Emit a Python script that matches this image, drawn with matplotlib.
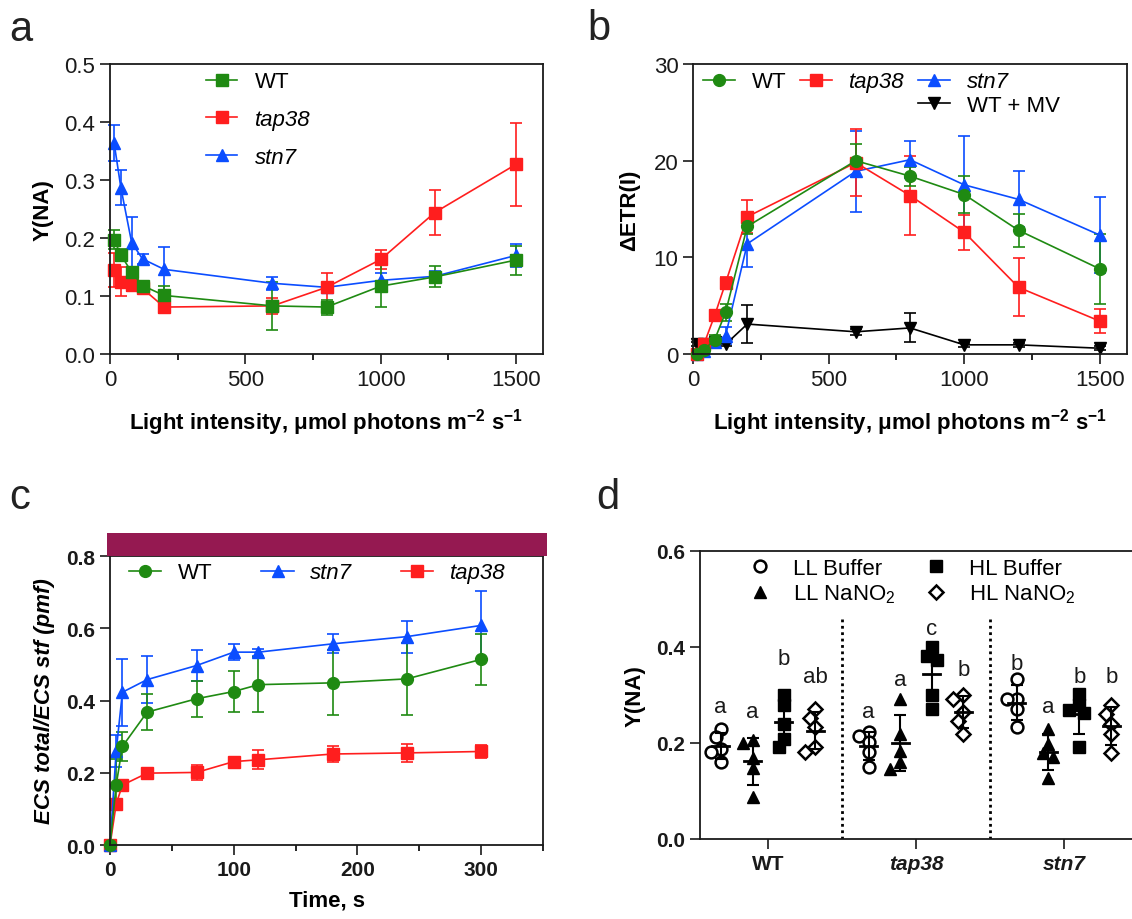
import matplotlib
matplotlib.use("Agg")
import matplotlib.pyplot as plt
import numpy as np
from matplotlib.lines import Line2D
from matplotlib.patches import Rectangle
from matplotlib.ticker import MultipleLocator

plt.rcParams["font.family"] = ["Liberation Sans", "DejaVu Sans"]
plt.rcParams["mathtext.fontset"] = "custom"
plt.rcParams["mathtext.rm"] = "Liberation Sans"
plt.rcParams["mathtext.it"] = "Liberation Sans:italic"
plt.rcParams["mathtext.bf"] = "Liberation Sans:bold"
plt.rcParams["axes.linewidth"] = 1.3

GREEN = "#1f8a12"
RED = "#ff1e1e"
BLUE = "#0b4dff"
PURPLE = "#951951"
INK = "#1a1a1a"

# ---- a: Y(NA) vs light intensity
light = [15, 40, 80, 120, 200, 600, 800, 1000, 1200, 1500]
yna_wt = [0.197, 0.171, 0.141, 0.118, 0.101, 0.083, 0.081, 0.117, 0.133, 0.162]
yna_wt_err = [0.016, 0.010, 0.008, 0.008, 0.017, 0.042, 0.013, 0.036, 0.018, 0.025]
yna_tap38 = [0.145, 0.125, 0.119, 0.113, 0.081, 0.083, 0.115, 0.163, 0.244, 0.327]
yna_tap38_err = [0.030, 0.025, 0.010, 0.008, 0.010, 0.014, 0.025, 0.016, 0.039, 0.072]
yna_stn7 = [0.364, 0.287, 0.192, 0.164, 0.146, 0.122, 0.115, 0.127, 0.134, 0.170]
yna_stn7_err = [0.031, 0.030, 0.045, 0.008, 0.038, 0.011, 0.008, 0.012, 0.010, 0.020]

# ---- b: delta ETR(I) vs light intensity
etr_wt = [0.0, 0.4, 1.5, 4.3, 13.2, 20.0, 18.4, 16.5, 12.8, 8.8]
etr_wt_err = [0.2, 0.3, 0.5, 0.9, 0.8, 1.7, 1.0, 1.9, 1.7, 3.6]
etr_tap38 = [0.0, 1.0, 4.0, 7.35, 14.2, 19.8, 16.4, 12.6, 6.9, 3.4]
etr_tap38_err = [0.2, 0.3, 0.5, 0.6, 1.7, 3.5, 4.1, 1.8, 3.0, 1.25]
etr_stn7 = [0.0, 0.3, 1.2, 1.9, 11.4, 18.9, 20.1, 17.5, 16.0, 12.3]
etr_stn7_err = [0.2, 0.3, 0.5, 0.9, 2.4, 4.2, 1.9, 5.1, 2.9, 3.9]
etr_mv = [1.0, 1.0, 1.2, 1.0, 3.1, 2.3, 2.7, 0.95, 0.95, 0.6]
etr_mv_err = [0.2, 0.2, 0.2, 0.2, 2.0, 0.3, 1.5, 0.2, 0.2, 0.2]

# ---- c: ECS total / ECS stf over time
time_s = [0, 5, 10, 30, 70, 100, 120, 180, 240, 300]
ecs_wt = [0.0, 0.167, 0.273, 0.368, 0.405, 0.425, 0.444, 0.449, 0.460, 0.514]
ecs_wt_err = [0.0, 0.07, 0.04, 0.05, 0.05, 0.058, 0.077, 0.09, 0.10, 0.07]
ecs_stn7 = [0.0, 0.261, 0.423, 0.458, 0.497, 0.534, 0.534, 0.557, 0.577, 0.608]
ecs_stn7_err = [0.0, 0.045, 0.093, 0.066, 0.042, 0.023, 0.01, 0.026, 0.044, 0.095]
ecs_tap38 = [0.0, 0.114, 0.166, 0.199, 0.201, 0.231, 0.236, 0.252, 0.255, 0.259]
ecs_tap38_err = [0.0, 0.01, 0.01, 0.008, 0.02, 0.01, 0.026, 0.023, 0.024, 0.017]

# ---- d: Y(NA) per genotype and treatment (5 leaves each)
genotypes = ["WT", "tap38", "stn7"]
treatments = ["LL Buffer", "LL NaNO$_2$", "HL Buffer", "HL NaNO$_2$"]
ll_buffer = [[0.229, 0.212, 0.188, 0.182, 0.160],
             [0.222, 0.215, 0.201, 0.181, 0.149],
             [0.333, 0.292, 0.292, 0.271, 0.233]]
ll_nano2 = [[0.207, 0.200, 0.168, 0.147, 0.087],
            [0.292, 0.219, 0.184, 0.160, 0.146],
            [0.229, 0.198, 0.179, 0.170, 0.128]]
hl_buffer = [[0.300, 0.279, 0.240, 0.208, 0.191],
             [0.399, 0.382, 0.372, 0.299, 0.271],
             [0.302, 0.279, 0.269, 0.262, 0.191]]
hl_nano2 = [[0.271, 0.253, 0.233, 0.191, 0.181],
            [0.299, 0.292, 0.264, 0.246, 0.219],
            [0.279, 0.260, 0.240, 0.219, 0.179]]
sig_letters = [["a", "a", "b", "ab"], ["a", "a", "c", "b"], ["b", "a", "b", "b"]]
letter_y = [[0.265, 0.254, 0.365, 0.328], [0.254, 0.321, 0.428, 0.341],
            [0.354, 0.265, 0.327, 0.327]]


def style_axes(ax, size=16, weight="normal"):
    ax.tick_params(direction="out", length=7.5, width=1.2, labelsize=size,
                   colors=INK, pad=3)
    ax.tick_params(which="minor", direction="out", length=4, width=1.2)
    for lab in ax.get_xticklabels() + ax.get_yticklabels():
        lab.set_fontweight(weight)
    for sp in ax.spines.values():
        sp.set_color(INK)


def curve(ax, x, y, err, color, marker, ms=8.5):
    ax.errorbar(x, y, yerr=err, color=color, marker=marker, ms=ms, lw=1.2,
                elinewidth=1.2, capsize=4.5, capthick=1.2, clip_on=False)


def swarm_x(vals, center):
    # simple dot-plot jitter in pixel units (about 148 px per group, 480 px per unit)
    placed = []
    xs = np.zeros(len(vals))
    for i in np.argsort(vals)[::-1]:
        py = vals[i] * 480
        for off in [0, -5, 5, -10, 10]:
            if all(np.hypot(off - qx, py - qy) >= 9.5 for qx, qy in placed):
                break
        placed.append((off, py))
        xs[i] = center + off / 148
    return xs


fig = plt.figure(figsize=(11.32, 9.2), dpi=100)

# ---------------- a
ax = fig.add_axes([0.0972, 0.6141, 0.3825, 0.3152])
curve(ax, light, yna_stn7, yna_stn7_err, BLUE, "^", 8)
curve(ax, light, yna_tap38, yna_tap38_err, RED, "s")
curve(ax, light, yna_wt, yna_wt_err, GREEN, "s")
ax.set_xlim(0, 1600)
ax.set_ylim(0, 0.5)
ax.set_xticks([0, 500, 1000, 1500])
ax.xaxis.set_minor_locator(MultipleLocator(250))
ax.set_yticks([0, 0.1, 0.2, 0.3, 0.4, 0.5])
ax.set_yticklabels(["0.0", "0.1", "0.2", "0.3", "0.4", "0.5"])
style_axes(ax)
ax.set_ylabel("Y(NA)", fontsize=16, fontweight="bold", labelpad=8)
ax.set_xlabel(r"Light intensity, μmol photons m$^{\mathbf{-2}}$ s$^{\mathbf{-1}}$",
              fontsize=16, fontweight="bold", labelpad=12)
hs = [Line2D([], [], color=c, marker=m, ms=8.5, lw=1.2)
      for c, m in [(GREEN, "s"), (RED, "s"), (BLUE, "^")]]
leg = ax.legend(hs, ["WT", "tap38", "stn7"], loc="upper left",
                bbox_to_anchor=(0.222, 0.975), frameon=False, fontsize=16,
                handlelength=1.4, handletextpad=0.8, labelspacing=0.75,
                borderpad=0, borderaxespad=0)
for t in leg.get_texts()[1:]:
    t.set_fontstyle("italic")

# ---------------- b
ax = fig.add_axes([0.6122, 0.6141, 0.3834, 0.3152])
curve(ax, light, etr_mv, etr_mv_err, "black", "v", 8)
curve(ax, light, etr_stn7, etr_stn7_err, BLUE, "^", 8)
curve(ax, light, etr_tap38, etr_tap38_err, RED, "s")
curve(ax, light, etr_wt, etr_wt_err, GREEN, "o")
ax.set_xlim(0, 1600)
ax.set_ylim(0, 30)
ax.set_xticks([0, 500, 1000, 1500])
ax.xaxis.set_minor_locator(MultipleLocator(250))
ax.set_yticks([0, 10, 20, 30])
style_axes(ax)
ax.set_ylabel("ΔETR(I)", fontsize=16, fontweight="bold", labelpad=10)
ax.set_xlabel(r"Light intensity, μmol photons m$^{\mathbf{-2}}$ s$^{\mathbf{-1}}$",
              fontsize=16, fontweight="bold", labelpad=12)
blank = Line2D([], [], linestyle="none")
hs = [Line2D([], [], color=c, marker=m, ms=8.5, lw=1.2)
      for c, m in [(GREEN, "o"), (RED, "s"), (BLUE, "^"), ("black", "v")]]
leg = ax.legend([hs[0], blank, hs[1], blank, hs[2], hs[3]],
                ["WT", "", "tap38", "", "stn7", "WT + MV"], ncol=3,
                loc="upper left", bbox_to_anchor=(0.023, 0.975), frameon=False,
                fontsize=16, handlelength=1.45, handletextpad=0.75,
                columnspacing=0.6, labelspacing=0.1, borderpad=0,
                borderaxespad=0)
for i in (2, 4):
    leg.get_texts()[i].set_fontstyle("italic")

# ---------------- c
ax = fig.add_axes([0.0972, 0.0804, 0.3825, 0.3141])
curve(ax, time_s, ecs_tap38, ecs_tap38_err, RED, "s")
curve(ax, time_s, ecs_stn7, ecs_stn7_err, BLUE, "^", 8)
curve(ax, time_s, ecs_wt, ecs_wt_err, GREEN, "o")
ax.set_xlim(0, 350)
ax.set_ylim(0, 0.8)
ax.set_xticks([0, 100, 200, 300])
ax.xaxis.set_minor_locator(MultipleLocator(50))
ax.set_yticks([0, 0.2, 0.4, 0.6, 0.8])
ax.set_yticklabels(["0.0", "0.2", "0.4", "0.6", "0.8"])
style_axes(ax, size=15, weight="bold")
ax.add_patch(Rectangle((-2.5, 0.8), 355.5, 0.064, facecolor=PURPLE,
                       edgecolor="none", clip_on=False, zorder=5))
ax.set_ylabel("ECS total/ECS stf (pmf)", fontsize=16, fontweight="bold",
              fontstyle="italic", labelpad=8)
ax.set_xlabel("Time, s", fontsize=16, fontweight="bold", labelpad=8)
hs = [Line2D([], [], color=c, marker=m, ms=8.5, lw=1.2)
      for c, m in [(GREEN, "o"), (BLUE, "^"), (RED, "s")]]
leg = ax.legend(hs, ["WT", "stn7", "tap38"], ncol=3, loc="upper left",
                bbox_to_anchor=(0.044, 0.978), frameon=False, fontsize=16,
                handlelength=1.45, handletextpad=0.75, columnspacing=2.2,
                borderpad=0, borderaxespad=0)
for t in leg.get_texts()[1:]:
    t.set_fontstyle("italic")

# ---------------- d
ax = fig.add_axes([0.6184, 0.0870, 0.3816, 0.3130])
offsets = [-0.32, -0.105, 0.105, 0.32]
marker_kw = [dict(marker="o", mfc="white", mec="black", mew=1.8, ms=8.5),
             dict(marker="^", mfc="black", mec="black", ms=8.5),
             dict(marker="s", mfc="black", mec="black", ms=8.5),
             dict(marker="D", mfc="white", mec="black", mew=1.8, ms=7.5)]
groups = [ll_buffer, ll_nano2, hl_buffer, hl_nano2]
for g in range(len(genotypes)):
    for k, data in enumerate(groups):
        vals = np.array(data[g])
        cx = g + 1 + offsets[k]
        ax.plot(swarm_x(vals, cx), vals, linestyle="none", zorder=3,
                **marker_kw[k])
        m, sd = vals.mean(), vals.std(ddof=1)
        ax.errorbar([cx], [m], yerr=[sd], color="black", lw=1.5, capsize=4.5,
                    capthick=1.5, zorder=4)
        ax.plot([cx - 0.058, cx + 0.058], [m, m], color="black", lw=2, zorder=4)
        ax.text(cx, letter_y[g][k], sig_letters[g][k], ha="center",
                va="baseline", fontsize=16, color=INK)
for xv in (1.5, 2.5):
    ax.plot([xv, xv], [0, 0.4625], color="black", lw=2, linestyle=(0, (1, 1.3)))
ax.set_xlim(0.54, 3.46)
ax.set_ylim(0, 0.6)
ax.set_xticks([1, 2, 3])
ax.set_xticklabels(genotypes)
ax.set_yticks([0, 0.2, 0.4, 0.6])
ax.set_yticklabels(["0.0", "0.2", "0.4", "0.6"])
ax.spines["right"].set_visible(False)
style_axes(ax, size=15, weight="bold")
for lab in ax.get_xticklabels()[1:]:
    lab.set_fontstyle("italic")
ax.set_ylabel("Y(NA)", fontsize=16, fontweight="bold", labelpad=8)
hs = [Line2D([], [], linestyle="none", **kw) for kw in marker_kw]
ax.legend(hs, treatments, ncol=2, loc="upper left",
          bbox_to_anchor=(0.113, 0.975), frameon=False, fontsize=16,
          handlelength=1.0, handletextpad=1.0, columnspacing=1.3,
          labelspacing=0.15, borderpad=0, borderaxespad=0)

# panel letters
for x, y, s in [(0.008, 0.955, "a"), (0.519, 0.957, "b"),
                (0.008, 0.447, "c"), (0.527, 0.447, "d")]:
    fig.text(x, y, s, fontsize=30, color="#222222")

fig.savefig("out.png", dpi=100)
plt.close(fig)
